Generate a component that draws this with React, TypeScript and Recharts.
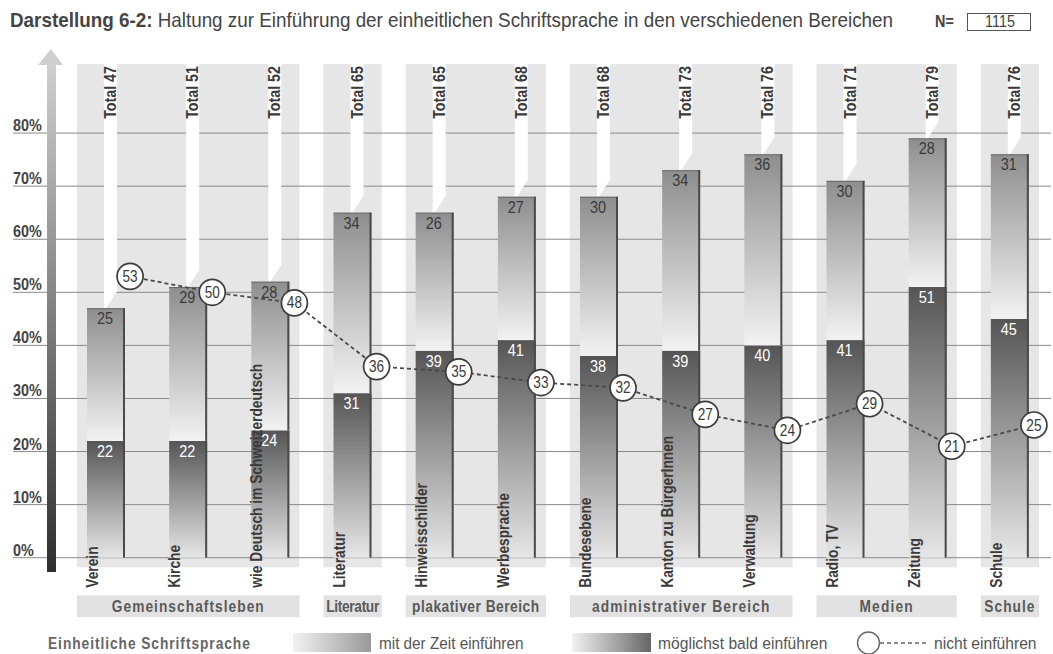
import React from 'react';
import {
  ComposedChart,
  Bar,
  Line,
  XAxis,
  YAxis,
  CartesianGrid,
  ReferenceArea,
  LabelList,
  Customized,
} from 'recharts';

// Einheitliche Schriftsprache: Haltung nach Bereich (Prozent, N = 1115)
const categories = [
  'Verein',
  'Kirche',
  'wie Deutsch im Schweizerdeutsch',
  'Literatur',
  'Hinweisschilder',
  'Werbesprache',
  'Bundesebene',
  'Kanton zu BürgerInnen',
  'Verwaltung',
  'Radio, TV',
  'Zeitung',
  'Schule',
];
const soonValues = [22, 22, 24, 31, 39, 41, 38, 39, 40, 41, 51, 45]; // möglichst bald einführen
const laterValues = [25, 29, 28, 34, 26, 27, 30, 34, 36, 30, 28, 31]; // mit der Zeit einführen
const totals = [47, 51, 52, 65, 65, 68, 68, 73, 76, 71, 79, 76];
const notValues = [53, 50, 48, 36, 35, 33, 32, 27, 24, 29, 21, 25]; // nicht einführen
const yTicks = [0, 10, 20, 30, 40, 50, 60, 70, 80];
const yMax = 90;

const groupNames = ['Gemeinschaftsleben', 'Literatur', 'plakativer Bereich', 'administrativer Bereich', 'Medien', 'Schule'];
const groupFirst = ['Verein', 'Literatur', 'Hinweisschilder', 'Bundesebene', 'Radio, TV', 'Schule'];
const groupLast = ['wie Deutsch im Schweizerdeutsch', 'Literatur', 'Werbesprache', 'Verwaltung', 'Zeitung', 'Schule'];

const data = categories.map((name, i) => ({
  name,
  soon: soonValues[i],
  later: laterValues[i],
  total: totals[i],
  not: notValues[i],
}));

// letter spacing of the group captions (the print uses uneven tracking)
const groupTracking: Record<string, number> = {
  Gemeinschaftsleben: 1.2,
  Literatur: -0.4,
  'plakativer Bereich': 0.6,
  'administrativer Bereich': 1.3,
  Medien: 1.4,
  Schule: 1.2,
};

const FONT = "'Liberation Sans', Arial, 'DejaVu Sans', sans-serif";
const BG_TOP = 64;
const TEXT = '#3a3a3a';

// condensed text: Liberation Sans squeezed horizontally
const NText = ({ x, y, size, weight = 'normal', anchor = 'start', rotate = 0, sx = 0.86, fill = TEXT, spacing = 0, children }: any) => (
  <text
    transform={`translate(${x},${y})${rotate ? ` rotate(${rotate})` : ''} scale(${sx},1)`}
    textAnchor={anchor}
    fontFamily={FONT}
    fontSize={size}
    fontWeight={weight}
    letterSpacing={spacing}
    fill={fill}
  >
    {children}
  </text>
);

const SoonBar = (p: any) => {
  const { x, y, width, height } = p;
  if (!height || height <= 0) return null;
  return (
    <g>
      <rect x={x} y={y} width={width} height={height} fill="url(#gradSoon)" />
      <rect x={x + width - 2} y={y} width={2} height={height} fill="#4a4a4a" />
    </g>
  );
};

const LaterBar = (p: any) => {
  const { x, y, width, height, payload } = p;
  const c = x + width / 2;
  const flag = `${c - 2},${BG_TOP} ${c + 11},${BG_TOP} ${c + 11},${y - 17} ${c},${y} ${c - 2},${y}`;
  return (
    <g>
      <polygon points={flag} fill="#ffffff" />
      <rect x={x} y={y} width={width} height={height} fill="url(#gradLater)" />
      <rect x={x} y={y} width={width} height={1} fill="#6a6a6a" />
      <rect x={x + width - 2} y={y} width={2} height={height} fill="#4a4a4a" />
      <NText x={c + 10} y={BG_TOP + 2} rotate={-90} anchor="end" size={17} weight="bold" sx={0.84}>
        {`Total ${payload.total}`}
      </NText>
    </g>
  );
};

const valueLabel = (fill: string) => (p: any) => {
  const { x, y, width, value } = p;
  return (
    <NText x={x + width / 2 - 1} y={y + 16} anchor="middle" size={17} sx={0.85} fill={fill}>
      {value}
    </NText>
  );
};

const GroupShape = (name: string) => (p: any) => {
  const { x, y, width, height } = p;
  const bottom = y + height;
  return (
    <g>
      <rect x={x + 12} y={y} width={width - 24} height={height} fill="#e6e6e6" />
      <rect x={x + 12} y={bottom + 28} width={width - 24} height={22} fill="#e2e2e2" />
      <NText x={x + width / 2} y={bottom + 45} anchor="middle" size={16} weight="bold" fill="#5a5a5a" spacing={groupTracking[name]}>
        {name}
      </NText>
    </g>
  );
};

const CategoryTick = (p: any) => {
  const { x, y, payload } = p;
  return (
    <NText x={x - 8} y={y + 22} rotate={-90} size={16} weight="bold" sx={0.86}>
      {payload.value}
    </NText>
  );
};

const PercentTick = (p: any) => {
  const { y, payload } = p;
  return (
    <NText x={13} y={y - 2} size={16} weight="bold" sx={0.9} fill="#444">
      {`${payload.value}%`}
    </NText>
  );
};

const NotDot = (p: any) => {
  const { cx, cy, value, index } = p;
  return (
    <g key={`dot-${index}`}>
      <circle cx={cx} cy={cy} r={13} fill="#fff" stroke="#3c3c3c" strokeWidth={1.7} />
      <NText x={cx} y={cy + 5.5} anchor="middle" size={16} sx={0.85}>
        {value}
      </NText>
    </g>
  );
};

// gridlines only at the percent ticks (no line at the top of the plot)
const gridRows = (props: any) => {
  const s = props?.yAxis?.scale;
  let f: ((v: number) => number) | null = null;
  if (typeof s === 'function') f = (v) => s(v);
  else if (s && typeof s.map === 'function') f = (v) => s.map(v);
  else if (s && typeof s.apply === 'function') f = (v) => s.apply(v);
  const off = props?.offset;
  return yTicks.map((t) => {
    const v = f ? f(t) : NaN;
    if (Number.isFinite(v)) return v as number;
    return off.top + off.height * (1 - t / yMax);
  });
};

const Decorations = () => (
  <g>
    <defs>
      <linearGradient id="gradLater" x1="0" y1="0" x2="0" y2="1">
        <stop offset="0%" stopColor="#8e8e8e" />
        <stop offset="100%" stopColor="#f2f2f2" />
      </linearGradient>
      <linearGradient id="gradSoon" x1="0" y1="0" x2="0" y2="1">
        <stop offset="0%" stopColor="#555555" />
        <stop offset="100%" stopColor="#e6e6e6" />
      </linearGradient>
      <linearGradient id="gradAxis" x1="0" y1="0" x2="0" y2="1">
        <stop offset="0%" stopColor="#cfcfcf" />
        <stop offset="100%" stopColor="#2e2e2e" />
      </linearGradient>
      <linearGradient id="legLater" x1="0" y1="0" x2="1" y2="0">
        <stop offset="0%" stopColor="#f2f2f2" />
        <stop offset="100%" stopColor="#999" />
      </linearGradient>
      <linearGradient id="legSoon" x1="0" y1="0" x2="1" y2="0">
        <stop offset="0%" stopColor="#f2f2f2" />
        <stop offset="100%" stopColor="#666" />
      </linearGradient>
    </defs>
    {/* title */}
    <text transform="translate(10,27) scale(0.943,1)" fontFamily={FONT} fontSize={20} fill="#444">
      <tspan fontWeight="bold">Darstellung 6-2:</tspan>
      <tspan> Haltung zur Einführung der einheitlichen Schriftsprache in den verschiedenen Bereichen</tspan>
    </text>
    <NText x={935} y={27} size={16} weight="bold" sx={0.9} fill="#444">N=</NText>
    <rect x={967.5} y={13.5} width={63} height={17} fill="#fff" stroke="#555" strokeWidth={1} />
    <NText x={1000} y={27} anchor="middle" size={16} sx={0.9} fill="#444">1115</NText>
    {/* y axis arrow */}
    <rect x={47} y={64} width={9} height={508} fill="url(#gradAxis)" />
    <polygon points="38,65 63,65 51,49" fill="#cfcfcf" />
    {/* legend */}
    <NText x={48} y={649} size={16} weight="bold" spacing={1.1} fill="#666">Einheitliche Schriftsprache</NText>
    <rect x={293} y={633} width={78} height={19} fill="url(#legLater)" />
    <NText x={379} y={649} size={17} sx={0.9} fill="#555">mit der Zeit einführen</NText>
    <rect x={572} y={633} width={79} height={19} fill="url(#legSoon)" />
    <NText x={658} y={649} size={17} sx={0.92} fill="#555">möglichst bald einführen</NText>
    <circle cx={868.5} cy={643} r={11} fill="#fff" stroke="#666" strokeWidth={1.4} />
    <line x1={880} y1={643} x2={928} y2={643} stroke="#666" strokeWidth={1.6} strokeDasharray="4 3" />
    <NText x={934} y={649} size={17} sx={0.92} fill="#555">nicht einführen</NText>
  </g>
);

export default function App() {
  return (
    <div style={{ position: 'absolute', left: 0, top: 0, width: 1053, height: 654, background: '#fff' }}>
      <ComposedChart
        width={1053}
        height={654}
        data={data}
        margin={{ top: 80, right: 2, bottom: 95.3, left: 12 }}
      >
        <Customized component={<Decorations />} />
        {groupNames.map((g, i) => (
          <ReferenceArea
            key={g}
            x1={groupFirst[i]}
            x2={groupLast[i]}
            y1={-1.8}
            y2={93}
            ifOverflow="visible"
            shape={GroupShape(g)}
            zIndex={-200}
          />
        ))}
        <CartesianGrid
          horizontal
          vertical={false}
          stroke="#8a8a8a"
          strokeWidth={1}
          horizontalCoordinatesGenerator={gridRows}
        />
        <XAxis
          dataKey="name"
          type="category"
          height={1}
          padding={{ left: 52, right: 0 }}
          axisLine={false}
          tickLine={false}
          interval={0}
          tick={<CategoryTick />}
        />
        <XAxis
          xAxisId="ln"
          dataKey="name"
          type="category"
          hide
          padding={{ left: 76, right: -24 }}
        />
        <YAxis
          type="number"
          domain={[0, yMax]}
          ticks={yTicks}
          width={1}
          axisLine={false}
          tickLine={false}
          tick={<PercentTick />}
        />
        <Bar dataKey="soon" stackId="a" barSize={38} shape={SoonBar} isAnimationActive={false}>
          <LabelList dataKey="soon" content={valueLabel('#ffffff')} />
        </Bar>
        <Bar dataKey="later" stackId="a" barSize={38} shape={LaterBar} isAnimationActive={false}>
          <LabelList dataKey="later" content={valueLabel(TEXT)} />
        </Bar>
        <Line
          xAxisId="ln"
          dataKey="not"
          stroke="#4a4a4a"
          strokeWidth={1.8}
          strokeDasharray="4 3"
          dot={NotDot}
          activeDot={false}
          isAnimationActive={false}
        />
      </ComposedChart>
    </div>
  );
}
